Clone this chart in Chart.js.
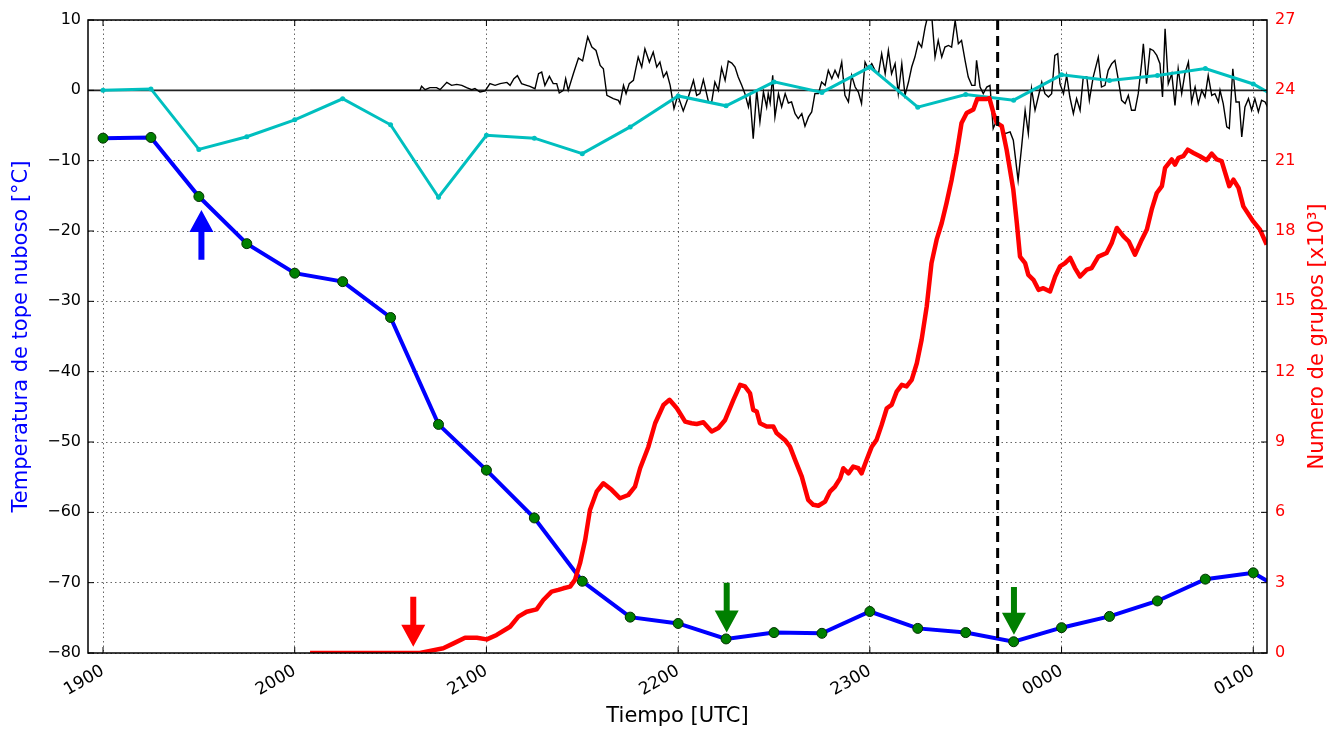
<!DOCTYPE html>
<html><head><meta charset="utf-8">
<script src="https://cdn.jsdelivr.net/npm/chart.js@4.4.0/dist/chart.umd.min.js"></script>
<style>html,body{margin:0;padding:0;background:#fff;}canvas{display:block;}</style>
</head><body>
<canvas id="c" width="1339" height="731"></canvas>
<script>
// Time axis: minutes after 19:00 UTC
const tickTimes = [0, 60, 120, 180, 240, 300, 360];
const tickLabels = ['1900', '2000', '2100', '2200', '2300', '0000', '0100'];

// Cloud-top temperature (blue) and its change (cyan), every 15 min
const tempTimes = [0,15,30,45,60,75,90,105,120,135,150,165,180,195,210,225,240,255,270,285,300,315,330,345,360,375];
const tempValues = [-6.8,-6.7,-15.1,-21.8,-26.0,-27.2,-32.3,-47.5,-54.0,-60.8,-69.8,-74.9,-75.8,-78.0,-77.1,-77.2,-74.1,-76.5,-77.1,-78.4,-76.4,-74.8,-72.6,-69.5,-68.6,-72.6];
const tempChange = [0.0,0.2,-8.4,-6.6,-4.2,-1.2,-4.9,-15.2,-6.4,-6.8,-9.0,-5.2,-0.8,-2.2,1.2,-0.3,3.3,-2.4,-0.6,-1.4,2.2,1.4,2.1,3.1,0.9,-2.9];

// Thin black high-rate series
const blackTimes = [64.8,99.2,99.7,100.8,102.3,104.4,105.5,107.6,109.1,110.7,112.3,113.8,115.4,116.4,118.0,119.6,121.1,122.7,124.3,126.4,127.4,128.6,129.7,131.0,132.6,133.6,135.2,136.3,137.3,138.3,139.7,140.9,142.0,142.8,144.1,144.8,145.6,147.2,148.8,150.1,151.7,153.0,154.3,155.6,156.6,157.7,159.7,161.3,161.8,162.9,163.7,164.7,166.0,167.5,168.6,169.6,171.0,172.2,173.3,174.3,175.4,176.4,177.5,178.7,179.9,181.6,183.2,184.8,185.8,186.8,187.9,
189.5,190.5,191.5,192.6,193.6,194.7,195.7,196.8,197.8,198.8,199.9,200.9,202.0,202.5,203.5,204.6,205.6,206.7,207.7,208.2,208.8,209.6,210.3,211.4,212.4,213.5,214.5,215.5,216.6,217.6,218.7,219.7,220.8,221.8,222.8,223.9,224.9,226.0,227.0,228.1,229.1,230.1,231.2,232.2,233.3,234.3,235.4,236.4,237.4,238.5,239.5,240.6,241.6,242.7,243.7,244.8,245.8,246.8,247.9,248.9,250.0,251.0,252.1,253.1,254.1,255.2,256.2,257.3,258.3,259.4,260.4,261.4,262.5,263.5,264.6,265.6,266.7,267.7,268.7,269.8,270.8,271.9,272.9,273.4,274.5,275.5,276.6,277.6,
278.6,279.7,280.5,282.3,283.9,284.9,286.4,287.5,288.6,289.6,290.6,291.7,292.7,293.8,294.8,295.9,296.9,297.9,298.8,299.5,300.6,301.6,302.6,303.7,304.7,305.8,306.8,307.9,308.7,309.9,311.5,312.5,313.6,314.6,315.7,316.7,317.8,318.8,319.9,320.9,321.9,323.0,324.0,325.1,325.6,326.6,327.7,328.7,329.8,330.8,331.6,332.4,333.4,334.5,335.5,336.5,337.6,338.6,339.7,340.7,341.8,342.8,343.9,344.9,345.9,347.0,348.0,349.1,349.6,350.6,351.7,352.5,353.6,354.6,355.6,356.4,357.4,358.5,359.5,360.5,361.6,362.6,363.7,364.7];
const blackValues = [0,0,0.57,0.09,0.38,0.38,0.09,1.13,0.71,0.85,0.71,0.38,0.09,0.24,-0.24,-0.09,0.95,0.71,0.95,1.13,0.71,1.65,2.08,0.95,0.71,0.57,0.24,2.36,2.6,0.71,1.99,0.95,0.95,-0.38,0,1.65,0,2.36,4.6,4.2,7.6,6.15,5.67,3.55,3.07,-0.71,-1.18,-1.42,-1.89,0.71,-0.47,0.95,1.42,4.73,3.31,5.91,4.02,5.44,3.31,4.02,1.89,2.6,0.71,-2.6,-0.71,-2.93,-0.95,1.42,-0.71,-0.47,1.52,
-1.65,-1.65,1.18,0,3.2,1.42,4.16,3.88,3.31,1.89,0.71,-0.47,-2.36,-0.95,-6.86,0,-4.49,-0.24,-2.36,-0.47,-1.8,2.13,-3.78,-0.47,-2.36,-0.47,-1.8,-1.65,-3.31,-4.02,-3.31,-5.11,-3.78,-3.07,-0.47,-0.47,1.18,0.71,2.84,1.65,2.84,1.89,4.02,-0.71,-1.65,2.13,0.47,-0.24,-1.89,4.02,3.07,3.78,2.84,2.36,5.2,2.36,5.67,2.36,3.78,-0.47,3.78,-0.71,1.18,3.31,4.73,6.86,6.15,8.98,10.9,10.4,4.73,7.09,4.73,6.15,6.38,6.15,9.93,6.62,7.09,4.26,1.89,0.71,0.71,4.26,0.47,-0.47,0.47,0.71,
-5.44,-4.26,-4.73,-6.15,-5.91,-7.09,-12.8,-8.04,-2.84,-6.15,0.24,-2.84,-0.95,1.18,-0.47,-0.95,-0.47,4.96,5.2,0.95,-0.47,2.13,-0.95,-3.31,-1.18,-2.84,1.89,1.89,-1.42,1.89,4.73,0.47,0.71,2.84,3.78,4.26,1.42,-1.42,-1.89,-0.71,-2.84,-2.84,-0.47,4.02,6.62,0.95,5.91,5.67,4.96,3.78,-0.95,8.75,0.95,2.36,-2.13,3.07,-0.47,2.36,4.02,-1.65,0.47,-1.89,0,-0.95,2.13,-0.71,-0.47,-1.65,0,-1.89,-5.2,-5.44,3.07,-1.65,-1.65,-6.62,-2.36,-1.18,-2.84,-1.18,-3.07,-1.42,-1.65,-2.6];

// Number of groups (thousands), right axis
const groupTimes = [64.8,99.2,102.3,106.5,109.7,113.3,117.0,120.1,123.2,127.4,130.0,132.6,135.7,137.8,140.4,142.5,144.1,146.2,147.7,149.3,150.9,152.4,154.5,156.6,159.2,161.8,164.4,166.5,168.1,170.7,172.8,175.4,177.3,179.6,182.2,184.2,185.8,187.9,190.5,192.6,194.7,197.3,199.4,200.9,202.5,203.5,204.6,205.6,207.7,209.8,210.8,213.4,215.0,216.6,218.7,220.7,222.3,223.9,226.0,227.5,229.1,230.7,231.7,233.3,234.8,236.4,237.4,239.0,240.6,242.1,243.7,245.3,246.8,248.4,250.0,251.5,253.1,254.7,256.2,257.8,259.3,260.9,262.5,264.0,265.6,267.2,268.7,270.3,272.4,273.6,276.6,277.4,278.7,279.7,281.3,282.8,284.9,286.0,287.0,288.6,289.6,291.2,292.8,294.3,296.4,298.0,299.5,301.1,302.7,304.2,305.8,307.9,309.4,311.5,314.1,315.7,317.3,319.4,321.0,323.0,325.1,326.7,328.2,329.8,331.4,332.4,334.5,335.5,336.6,338.1,339.5,341.3,343.3,345.4,347.0,348.6,350.1,352.5,353.8,355.4,356.9,360.0,362.1,364.2];
const groupValues = [0,0,0.09,0.2,0.41,0.65,0.65,0.58,0.77,1.12,1.55,1.76,1.86,2.26,2.62,2.69,2.76,2.83,3.12,3.83,4.82,6.1,6.88,7.24,6.96,6.6,6.74,7.1,7.88,8.8,9.8,10.58,10.8,10.44,9.87,9.8,9.77,9.84,9.45,9.6,9.94,10.8,11.44,11.37,11.08,10.37,10.3,9.8,9.66,9.66,9.38,9.09,8.8,8.24,7.52,6.53,6.32,6.28,6.46,6.88,7.1,7.45,7.88,7.66,7.95,7.88,7.66,8.24,8.8,9.09,9.73,10.44,10.58,11.15,11.44,11.37,11.65,12.36,13.36,14.78,16.63,17.63,18.34,19.19,20.19,21.33,22.61,23.03,23.18,23.63,23.63,23.67,23.03,22.61,22.47,21.47,19.76,18.34,16.91,16.63,16.13,15.92,15.49,15.56,15.42,16.06,16.49,16.63,16.85,16.42,16.06,16.35,16.42,16.91,17.06,17.49,18.13,17.77,17.56,16.99,17.63,18.06,18.91,19.62,19.91,20.69,21.05,20.83,21.12,21.19,21.47,21.33,21.19,21.02,21.3,21.05,20.98,19.91,20.19,19.84,19.05,18.41,18.06,17.42];

const eventTime = 280;     // dashed vertical line
const zeroLevel = 0;       // horizontal reference line
// arrows: time, start value, tip value (left axis units)
const arrowTimes = [30.8, 97.1, 195.2, 285.1];
const arrowFrom  = [-24.1, -72.0, -70.0, -70.6];
const arrowTo    = [-17.0, -79.1, -77.1, -77.4];
const arrowColors = ['#0000ff', '#ff0000', '#007f00', '#007f00'];

const FONT = 'DejaVu Sans';
Chart.defaults.font.family = FONT;
const xy = (xs, ys) => xs.map((x, i) => ({x: x, y: ys[i]}));
const minus = v => String(v).replace('-', '\u2212');

const overlay = {
  id: 'overlay',
  beforeDatasetsDraw(chart) {
    const {ctx, chartArea: a, scales} = chart;
    const py = scales.y.getPixelForValue(zeroLevel);
    ctx.save();
    ctx.strokeStyle = '#222';
    ctx.lineWidth = 1.6;
    ctx.beginPath(); ctx.moveTo(a.left, py); ctx.lineTo(a.right, py); ctx.stroke();
    ctx.restore();
  },
  afterDatasetsDraw(chart) {
    const {ctx, chartArea: a, scales} = chart;
    const xs = scales.x, ys = scales.y, y2 = scales.y2;
    ctx.save();
    // dashed event line
    const ex = xs.getPixelForValue(eventTime);
    ctx.strokeStyle = '#000'; ctx.lineWidth = 3; ctx.setLineDash([10, 6]);
    ctx.beginPath(); ctx.moveTo(ex, a.top); ctx.lineTo(ex, a.bottom); ctx.stroke();
    ctx.setLineDash([]);
    // arrows
    arrowTimes.forEach((t, i) => {
      const px = xs.getPixelForValue(t);
      const p0 = ys.getPixelForValue(arrowFrom[i]);
      const p1 = ys.getPixelForValue(arrowTo[i]);
      const d = Math.sign(p1 - p0);
      const hl = 22, hw = 12, sw = 3;
      const base = p1 - d * hl;
      ctx.fillStyle = arrowColors[i];
      ctx.beginPath();
      ctx.moveTo(px - sw, p0); ctx.lineTo(px + sw, p0);
      ctx.lineTo(px + sw, base); ctx.lineTo(px + hw, base);
      ctx.lineTo(px, p1); ctx.lineTo(px - hw, base);
      ctx.lineTo(px - sw, base); ctx.closePath(); ctx.fill();
    });
    // frame
    ctx.strokeStyle = '#000'; ctx.lineWidth = 1.5;
    ctx.strokeRect(a.left, a.top, a.right - a.left, a.bottom - a.top);
    // inward tick marks
    ctx.lineWidth = 1;
    const tl = 6;
    ctx.beginPath();
    ys.ticks.forEach(t => { const p = ys.getPixelForValue(t.value); ctx.moveTo(a.left, p); ctx.lineTo(a.left + tl, p); });
    y2.ticks.forEach(t => { const p = y2.getPixelForValue(t.value); ctx.moveTo(a.right, p); ctx.lineTo(a.right - tl, p); });
    xs.ticks.forEach(t => { const p = xs.getPixelForValue(t.value); ctx.moveTo(p, a.bottom); ctx.lineTo(p, a.bottom - tl); ctx.moveTo(p, a.top); ctx.lineTo(p, a.top + tl); });
    ctx.stroke();
    // right axis title (reads bottom-to-top)
    ctx.fillStyle = '#ff0000';
    ctx.font = '21px "' + FONT + '"';
    ctx.textAlign = 'center'; ctx.textBaseline = 'middle';
    ctx.translate(1318, (a.top + a.bottom) / 2);
    ctx.rotate(-Math.PI / 2);
    ctx.fillText('Numero de grupos [x10\u00B3]', 0, 0);
    ctx.restore();
  }
};

new Chart(document.getElementById('c').getContext('2d'), {
  type: 'line',
  data: {
    datasets: [
      {label: 'Numero de grupos', data: xy(groupTimes, groupValues), yAxisID: 'y2', borderColor: '#ff0000', borderWidth: 4.5, pointRadius: 0, tension: 0, fill: false, borderJoinStyle: 'round'},
      {label: 'Temperatura', data: xy(tempTimes, tempValues), yAxisID: 'y', borderColor: '#0000ff', borderWidth: 4, pointRadius: 5, pointBackgroundColor: '#008000', pointBorderColor: '#003000', pointBorderWidth: 1, tension: 0, fill: false},
      {label: 'Cambio', data: xy(tempTimes, tempChange), yAxisID: 'y', borderColor: '#00bfbf', borderWidth: 3, pointRadius: 2.5, pointBackgroundColor: '#00bfbf', pointBorderColor: '#00bfbf', pointBorderWidth: 0, tension: 0, fill: false},
      {label: 'Serie', data: xy(blackTimes, blackValues), yAxisID: 'y', borderColor: '#000000', borderWidth: 1.4, pointRadius: 0, tension: 0, fill: false}
    ]
  },
  options: {
    responsive: false, animation: false, devicePixelRatio: 1,
    layout: {padding: {top: 20, left: 0, right: 0, bottom: 0}},
    plugins: {legend: {display: false}, tooltip: {enabled: false}},
    scales: {
      x: {
        type: 'linear', min: -4.7, max: 364.3,
        afterBuildTicks: s => { s.ticks = tickTimes.map(v => ({value: v})); },
        afterFit: s => { s.height = 78; },
        ticks: {callback: v => tickLabels[tickTimes.indexOf(v)], autoSkip: false, minRotation: 30, maxRotation: 30, color: '#000', font: {size: 17}, padding: 8},
        grid: {drawTicks: false, color: 'rgba(0,0,0,0.6)', lineWidth: 1},
        border: {display: false, dash: [1.5, 3]},
        title: {display: true, text: 'Tiempo [UTC]', color: '#000', font: {size: 21}, padding: {top: 0, bottom: 2}}
      },
      y: {
        position: 'left', min: -80, max: 10,
        afterFit: s => { s.width = 88; },
        ticks: {stepSize: 10, callback: v => minus(v), color: '#000', font: {size: 16}, padding: 7},
        grid: {drawTicks: false, color: 'rgba(0,0,0,0.6)', lineWidth: 1},
        border: {display: false, dash: [1.5, 3]},
        title: {display: true, text: 'Temperatura de tope nuboso [\u00B0C]', color: '#0000ff', font: {size: 21}, padding: {top: 9, bottom: 0}}
      },
      y2: {
        position: 'right', min: 0, max: 27,
        afterFit: s => { s.width = 72; },
        ticks: {stepSize: 3, color: '#ff0000', font: {size: 16}, padding: 8},
        grid: {display: false, drawTicks: false},
        border: {display: false}
      }
    }
  },
  plugins: [overlay]
});
</script>
</body></html>
